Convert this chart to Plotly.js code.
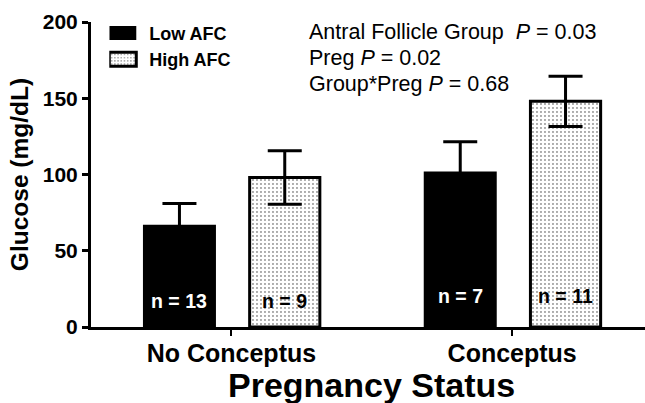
<!DOCTYPE html>
<html>
<head>
<meta charset="utf-8">
<script src="https://cdn.plot.ly/plotly-3.0.1.min.js"></script>
<style>
  html, body { margin: 0; padding: 0; background: #fff; }
  #chart { width: 645px; height: 403px; }
</style>
</head>
<body>
<div id="chart"></div>
<script>
// Plasma glucose by pregnancy status and antral follicle count group
const categories = ['No Conceptus', 'Conceptus'];
const lowAFC = [67, 102];
const lowSEM = [14, 19.5];
const highAFC = [98, 148];
const highSEM = [17.5, 16.5];
const lowN = [13, 7];
const highN = [9, 11];
const statLines = [
  'Antral Follicle Group&nbsp; <i>P</i> = 0.03',
  'Preg <i>P</i> = 0.02',
  'Group*Preg <i>P</i> = 0.68'
];

const FONT = 'Liberation Sans, Arial, Helvetica, sans-serif';
const BAR_W = 0.26;
const LOW_OFF = -0.315;
const HIGH_OFF = 0.065;

const low = {
  type: 'bar', name: 'Low AFC', x: categories, y: lowAFC,
  width: BAR_W, offset: LOW_OFF,
  marker: { color: '#000', line: { color: '#000', width: 0 } },
  error_y: { type: 'data', array: lowSEM, visible: true, color: '#000', thickness: 3, width: 17 }
};
const high = {
  type: 'bar', name: 'High AFC', x: categories, y: highAFC,
  width: BAR_W - 0.01, offset: HIGH_OFF,
  marker: {
    color: '#fff',
    line: { color: '#000', width: 3 },
    pattern: { shape: '.', fgcolor: '#333', bgcolor: '#fff', size: 4, solidity: 0.1 }
  },
  error_y: { type: 'data', array: highSEM, visible: true, color: '#000', thickness: 3, width: 17 }
};

const annotations = [];
// sample sizes written near the base of each bar
const nY = [17, 20.5];
categories.forEach((c, i) => {
  annotations.push({
    x: i + LOW_OFF + BAR_W / 2, y: nY[i], xref: 'x', yref: 'y',
    text: 'n = ' + lowN[i], showarrow: false,
    font: { family: FONT, size: 19.5, color: '#fff', weight: 'bold' }
  });
  annotations.push({
    x: i + HIGH_OFF + (BAR_W - 0.01) / 2, y: nY[i], xref: 'x', yref: 'y',
    text: 'n = ' + highN[i], showarrow: false,
    font: { family: FONT, size: 19.5, color: '#000', weight: 'bold' }
  });
});
// ANOVA results
const statY = [0.967, 0.882, 0.797];
statLines.forEach((t, i) => {
  annotations.push({
    x: 0.39, y: statY[i], xref: 'paper', yref: 'paper',
    xanchor: 'left', yanchor: 'middle', text: t, showarrow: false,
    font: { family: FONT, size: 21.5, color: '#000' }
  });
});
// x-axis title, centred on the full axis span
annotations.push({
  x: 0.507, y: 0, xref: 'paper', yref: 'paper',
  xanchor: 'center', yanchor: 'top', yshift: -37,
  text: 'Pregnancy Status', showarrow: false,
  font: { family: FONT, size: 34, color: '#000', weight: 'bold' }
});

const layout = {
  width: 645, height: 403,
  margin: { l: 91, r: 0, t: 22, b: 76 },
  paper_bgcolor: '#fff', plot_bgcolor: '#fff',
  barmode: 'overlay',
  showlegend: true,
  legend: {
    x: 0.033, y: 1.024, xanchor: 'left', yanchor: 'top',
    font: { family: FONT, size: 18, color: '#000', weight: 'bold' },
    bgcolor: 'rgba(0,0,0,0)', traceorder: 'normal'
  },
  xaxis: {
    type: 'category', range: [-0.5, 1.473],
    showline: true, linewidth: 3, linecolor: '#000',
    ticks: 'outside', ticklen: 6, tickwidth: 2, tickcolor: '#000',
    ticklabelstandoff: -4,
    showgrid: false, zeroline: false,
    tickfont: { family: FONT, size: 25, color: '#000', weight: 'bold' }
  },
  yaxis: {
    range: [0, 200], tickvals: [0, 50, 100, 150, 200],
    showline: true, linewidth: 3, linecolor: '#000',
    ticks: 'outside', ticklen: 6, tickwidth: 3, tickcolor: '#000',
    showgrid: false, zeroline: false,
    tickfont: { family: FONT, size: 21, color: '#000', weight: 'bold' },
    title: { text: 'Glucose (mg/dL)', standoff: 8,
      font: { family: FONT, size: 24.5, color: '#000', weight: 'bold' } }
  },
  annotations: annotations
};

Plotly.newPlot('chart', [low, high], layout, { displayModeBar: false, staticPlot: true }).then(gd => {
  // widen the legend swatches into flat rectangles
  gd.querySelectorAll('.legend g.legendpoints path').forEach(p => {
    p.setAttribute('d', 'M-20,-7H7V7H-20Z');
  });
});
</script>
</body>
</html>
